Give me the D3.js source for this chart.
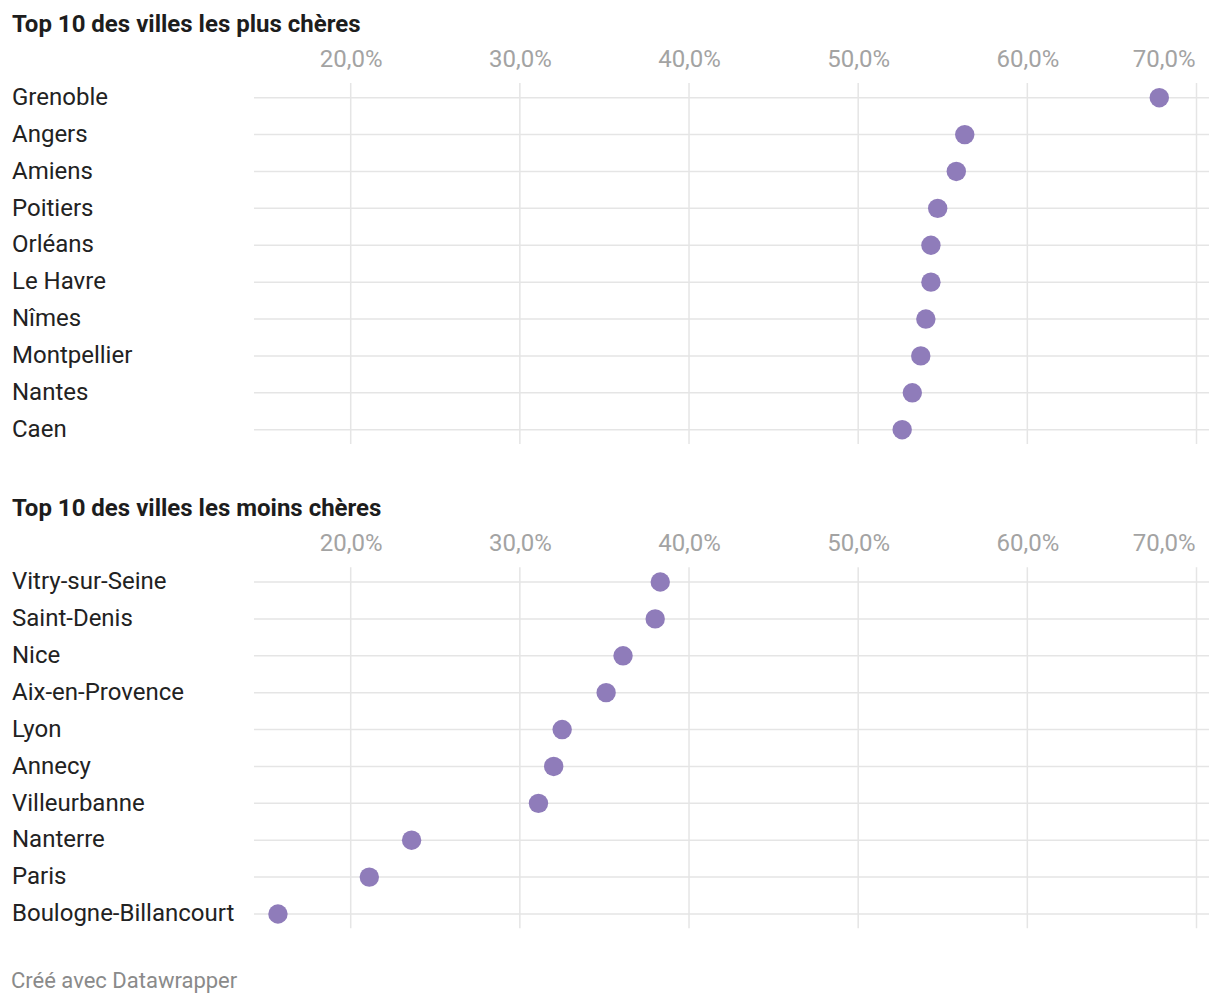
<!DOCTYPE html>
<html>
<head>
<meta charset="utf-8">
<script src="https://cdn.jsdelivr.net/npm/d3@7"></script>
<style>
  body { margin: 0; background: #fff; }
  svg { font-family: Roboto, "Noto Sans", sans-serif; }
</style>
</head>
<body>
<div id="chart"></div>
<script>
// Chart data
var titles = ["Top 10 des villes les plus chères", "Top 10 des villes les moins chères"];

var citiesHigh = ["Grenoble", "Angers", "Amiens", "Poitiers", "Orléans", "Le Havre", "Nîmes", "Montpellier", "Nantes", "Caen"];
var valuesHigh = [67.8, 56.3, 55.8, 54.7, 54.3, 54.3, 54.0, 53.7, 53.2, 52.6];

var citiesLow = ["Vitry-sur-Seine", "Saint-Denis", "Nice", "Aix-en-Provence", "Lyon", "Annecy", "Villeurbanne", "Nanterre", "Paris", "Boulogne-Billancourt"];
var valuesLow = [38.3, 38.0, 36.1, 35.1, 32.5, 32.0, 31.1, 23.6, 21.1, 15.7];

var tickValues = [20, 30, 40, 50, 60, 70];
var footer = "Créé avec Datawrapper";

var svgWidth = 1220;
var svgHeight = 1004;
var panelOffset = 484.3;

var svg = d3.select("#chart")
            .append("svg")
            .attr("width", svgWidth)
            .attr("height", svgHeight);

// shared x scale
var xScale = d3.scaleLinear()
               .domain([20, 70])
               .range([350.7, 1196.5]);

var gridLeft = 254;
var gridRight = 1209;
var fmt = function(d) { return d3.format(".1f")(d).replace(".", ",") + "%"; };

function drawPanel(top, title, cities, values) {
    var g = svg.append("g").attr("transform", `translate(0, ${top})`);

    var yScale = d3.scalePoint()
                   .domain(cities)
                   .range([97.7, 429.7]);

    g.append("text")
     .attr("x", 12)
     .attr("y", 31.5)
     .attr("font-size", "24px")
     .attr("font-weight", 700)
     .attr("fill", "#1d1d1d")
     .text(title);

    // vertical grid
    g.selectAll(".vgrid")
     .data(tickValues)
     .enter()
     .append("line")
     .attr("x1", d => xScale(d))
     .attr("x2", d => xScale(d))
     .attr("y1", 83)
     .attr("y2", 444)
     .attr("stroke", "#e5e5e5")
     .attr("stroke-width", 1.5);

    // tick labels
    var xAxis = d3.axisTop(xScale)
                  .tickValues(tickValues)
                  .tickFormat(fmt)
                  .tickSize(0)
                  .tickPadding(0);
    var ax = g.append("g")
              .attr("transform", "translate(0, 67)")
              .call(xAxis);
    ax.select(".domain").remove();
    ax.selectAll("text")
      .attr("font-family", "Roboto, sans-serif")
      .attr("font-size", "24px")
      .attr("fill", "#a3a3a3")
      .attr("dy", 0);
    // last label kept inside the chart
    ax.selectAll(".tick:last-of-type text")
      .attr("text-anchor", "end")
      .attr("x", -1.5);

    // horizontal row lines
    g.selectAll(".hgrid")
     .data(cities)
     .enter()
     .append("line")
     .attr("x1", gridLeft)
     .attr("x2", gridRight)
     .attr("y1", d => yScale(d))
     .attr("y2", d => yScale(d))
     .attr("stroke", "#e5e5e5")
     .attr("stroke-width", 1.5);

    // row labels
    g.selectAll(".label")
     .data(cities)
     .enter()
     .append("text")
     .attr("x", 12)
     .attr("y", d => yScale(d))
     .attr("dy", "0.3em")
     .attr("font-size", "24px")
     .attr("fill", "#222")
     .text(d => d);

    // dots
    g.selectAll("circle")
     .data(cities)
     .enter()
     .append("circle")
     .attr("cx", (d, i) => xScale(values[i]))
     .attr("cy", d => yScale(d))
     .attr("r", 9.7)
     .attr("fill", "#8f7cba");
}

drawPanel(0, titles[0], citiesHigh, valuesHigh);
drawPanel(panelOffset, titles[1], citiesLow, valuesLow);

svg.append("text")
   .attr("x", 11)
   .attr("y", 988)
   .attr("font-size", "22px")
   .attr("fill", "#8a8a8a")
   .text(footer);
</script>
</body>
</html>
